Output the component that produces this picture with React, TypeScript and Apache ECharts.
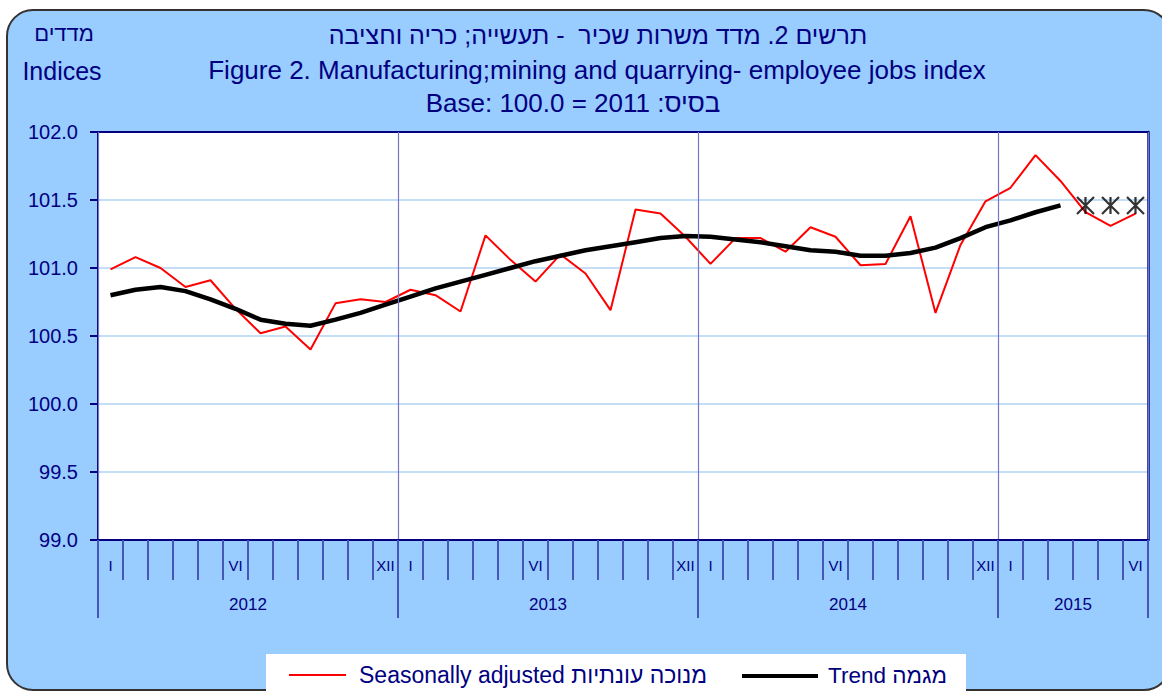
import React, { useEffect, useRef } from "react";
import * as echarts from "echarts";

const years = ["2012", "2013", "2014", "2015"];
const monthsPerYear = [12, 12, 12, 6];
const romanMonths = ["I", "II", "III", "IV", "V", "VI", "VII", "VIII", "IX", "X", "XI", "XII"];
const shownMonthLabels = ["I", "VI", "XII"];
const yTicks = [99.0, 99.5, 100.0, 100.5, 101.0, 101.5, 102.0];

const seasonallyAdjusted = [
  100.99, 101.08, 101.0, 100.86, 100.91, 100.7, 100.52, 100.57, 100.4, 100.74, 100.77, 100.75,
  100.84, 100.8, 100.68, 101.24, 101.06, 100.9, 101.1, 100.96, 100.69, 101.43, 101.4, 101.23,
  101.03, 101.22, 101.22, 101.12, 101.3, 101.23, 101.02, 101.03, 101.38, 100.67, 101.17, 101.49,
  101.59, 101.83, 101.64, 101.41, 101.31, 101.4,
];

const trend = [
  100.8, 100.84, 100.86, 100.83, 100.77, 100.7, 100.62, 100.59, 100.575, 100.62, 100.67, 100.73,
  100.79, 100.85, 100.9, 100.95, 101.0, 101.05, 101.09, 101.13, 101.16, 101.19, 101.22, 101.235,
  101.23, 101.21, 101.19, 101.16, 101.13, 101.12, 101.09, 101.09, 101.11, 101.15, 101.22, 101.3,
  101.35, 101.41, 101.46, null, null, null,
];

const provisionalMarks = [
  null, null, null, null, null, null, null, null, null, null, null, null,
  null, null, null, null, null, null, null, null, null, null, null, null,
  null, null, null, null, null, null, null, null, null, null, null, null,
  null, null, null, 101.46, 101.46, 101.46,
];

const titleHe = "תרשים 2. מדד משרות שכיר  - תעשייה; כריה וחציבה";
const titleEn = "Figure 2. Manufacturing;mining and quarrying- employee jobs index";
const titleBase = "Base: 100.0 = 2011 :בסיס";
const unitHe = "מדדים";
const unitEn = "Indices";
const legendSeasonal = "Seasonally adjusted מנוכה עונתיות";
const legendTrend = "Trend מגמה";

const FONT = "'Liberation Sans', Arial, sans-serif";
const NAVY = "#000080";

export default function App() {
  const ref = useRef<HTMLDivElement>(null);

  useEffect(() => {
    if (!ref.current) return;
    const chart = echarts.init(ref.current, undefined, { renderer: "svg" });

    const monthCats: string[] = [];
    const yearStartIdx: number[] = [];
    const yearMid: number[] = [];
    let idx = 0;
    years.forEach((y, yi) => {
      yearStartIdx.push(idx);
      yearMid.push(idx + monthsPerYear[yi] / 2);
      for (let m = 0; m < monthsPerYear[yi]; m++) {
        monthCats.push(y + "-" + romanMonths[m]);
      }
      idx += monthsPerYear[yi];
    });
    const total = idx;

    const option: any = {
      animation: false,
      textStyle: { fontFamily: FONT },
      grid: {
        left: 98,
        top: 132,
        right: 14,
        bottom: 151,
        show: true,
        backgroundColor: "#ffffff",
        borderWidth: 0,
      },
      xAxis: [
        {
          type: "category",
          data: monthCats,
          position: "bottom",
          boundaryGap: true,
          axisLine: { show: true, lineStyle: { color: NAVY, width: 2 } },
          axisTick: { show: true, interval: 0, alignWithLabel: false, inside: false, length: 40, lineStyle: { color: "#4657B8", width: 2 } },
          axisLabel: {
            show: true,
            interval: 0,
            margin: 18,
            fontSize: 15,
            color: NAVY,
            fontFamily: FONT,
            formatter: (v: string) => {
              const r = String(v).split("-")[1];
              return shownMonthLabels.indexOf(r) >= 0 ? r : "";
            },
          },
          splitLine: { show: false },
          z: 5,
        },
        {
          type: "category",
          data: monthCats,
          position: "bottom",
          boundaryGap: true,
          axisLine: { show: false },
          axisTick: {
            show: true,
            interval: (i: number) => yearStartIdx.indexOf(i) >= 0,
            alignWithLabel: false,
            length: 78,
            lineStyle: { color: "#4657B8", width: 2 },
          },
          axisLabel: { show: false },
          splitLine: {
            show: true,
            interval: (i: number) => yearStartIdx.indexOf(i) >= 0,
            lineStyle: { color: "#7676C4", width: 1.2 },
          },
          z: 5,
        },
        {
          type: "value",
          min: 0,
          max: total,
          interval: 3,
          position: "bottom",
          axisLine: { show: false },
          axisTick: { show: false },
          splitLine: { show: false },
          axisLabel: {
            margin: 56,
            fontSize: 17,
            color: NAVY,
            fontFamily: FONT,
            formatter: (v: number) => {
              const k = yearMid.indexOf(v);
              return k >= 0 ? years[k] : "";
            },
          },
        },
        {
          type: "category",
          data: monthCats,
          position: "top",
          axisLine: { show: true, lineStyle: { color: NAVY, width: 2 } },
          axisTick: { show: false },
          axisLabel: { show: false },
          splitLine: { show: false },
        },
      ],
      yAxis: [
        {
          type: "value",
          min: yTicks[0],
          max: yTicks[yTicks.length - 1],
          interval: 0.5,
          axisLine: { show: true, lineStyle: { color: NAVY, width: 2 } },
          axisTick: { show: true, length: 8, lineStyle: { color: NAVY, width: 2 } },
          axisLabel: {
            margin: 20,
            fontSize: 20,
            color: NAVY,
            fontFamily: FONT,
            formatter: (v: number) => v.toFixed(1),
          },
          splitLine: { show: true, lineStyle: { color: "#C4DEF6", width: 2 } },
        },
        {
          type: "value",
          position: "right",
          min: yTicks[0],
          max: yTicks[yTicks.length - 1],
          interval: 0.5,
          axisLine: { show: true, lineStyle: { color: NAVY, width: 2.5 } },
          axisTick: { show: false },
          axisLabel: { show: false },
          splitLine: { show: false },
        },
      ],
      series: [
        {
          name: "Seasonally adjusted",
          type: "line",
          data: seasonallyAdjusted,
          showSymbol: false,
          lineStyle: { color: "#FF0000", width: 2 },
          itemStyle: { color: "#FF0000" },
          z: 3,
        },
        {
          name: "Trend",
          type: "line",
          data: trend,
          showSymbol: false,
          lineStyle: { color: "#000000", width: 4.5 },
          itemStyle: { color: "#000000" },
          z: 4,
        },
        {
          name: "Provisional",
          type: "scatter",
          data: provisionalMarks,
          symbol: "path://M0,0L10,10M10,0L0,10M5,0L5,10",
          symbolSize: 17,
          itemStyle: { color: "rgba(0,0,0,0)", borderColor: "#000000", borderWidth: 2.2 },
          z: 5,
        },
      ],
      graphic: [
        {
          type: "rect",
          z: -10,
          shape: { x: 7, y: 10, width: 1163, height: 680, r: 26 },
          style: { fill: "#99CCFF", stroke: "#333333", lineWidth: 2 },
        },
        {
          type: "text",
          x: 64,
          y: 33,
          style: { text: unitHe, fill: NAVY, font: `22px ${FONT}`, align: "center", verticalAlign: "middle" },
        },
        {
          type: "text",
          x: 62,
          y: 71,
          style: { text: unitEn, fill: NAVY, font: `25px ${FONT}`, align: "center", verticalAlign: "middle" },
        },
        {
          type: "text",
          x: 598,
          y: 35,
          style: { text: titleHe, fill: NAVY, font: `25px ${FONT}`, align: "center", verticalAlign: "middle" },
        },
        {
          type: "text",
          x: 597,
          y: 70,
          style: { text: titleEn, fill: NAVY, font: `26px ${FONT}`, align: "center", verticalAlign: "middle" },
        },
        {
          type: "text",
          x: 573,
          y: 103,
          style: { text: titleBase, fill: NAVY, font: `26px ${FONT}`, align: "center", verticalAlign: "middle" },
        },
        {
          type: "rect",
          z: 50,
          shape: { x: 266, y: 654, width: 700, height: 45 },
          style: { fill: "#ffffff", stroke: "none" },
        },
        {
          type: "line",
          z: 51,
          shape: { x1: 289, y1: 675, x2: 346, y2: 675 },
          style: { stroke: "#FF0000", lineWidth: 2 },
        },
        {
          type: "text",
          z: 51,
          x: 359,
          y: 675,
          style: { text: legendSeasonal, fill: NAVY, font: `23px ${FONT}`, align: "left", verticalAlign: "middle" },
        },
        {
          type: "line",
          z: 51,
          shape: { x1: 742, y1: 676, x2: 818, y2: 676 },
          style: { stroke: "#000000", lineWidth: 4 },
        },
        {
          type: "text",
          z: 51,
          x: 828,
          y: 675,
          style: { text: legendTrend, fill: NAVY, font: `22.5px ${FONT}`, align: "left", verticalAlign: "middle" },
        },
      ],
    };

    chart.setOption(option);
    return () => chart.dispose();
  }, []);

  return (
    <div
      ref={ref}
      style={{ position: "fixed", left: 0, top: 0, width: 1162, height: 691, background: "#ffffff" }}
    />
  );
}
